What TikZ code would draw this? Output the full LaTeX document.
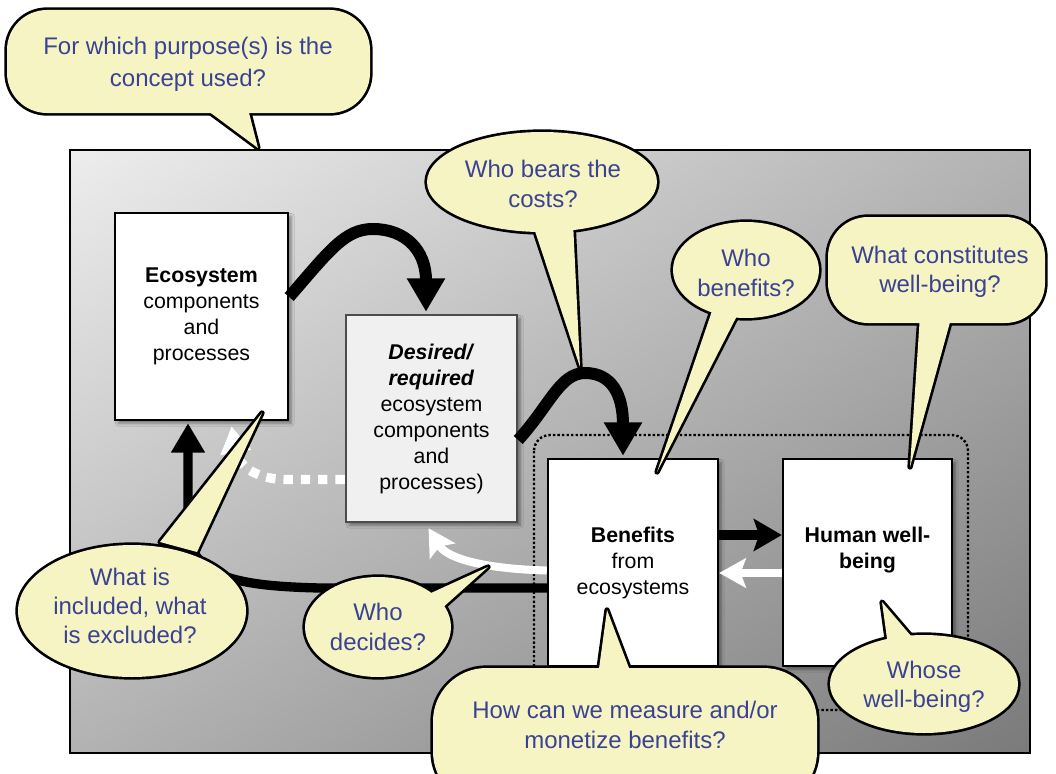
\documentclass[tikz,border=0pt]{standalone}
\usepackage{fontspec}
\setmainfont{Liberation Sans}
\usetikzlibrary{arrows.meta,calc,shadows.blur,shadings}
\definecolor{qblue}{RGB}{58,66,148}
\definecolor{bubfillc}{RGB}{247,244,196}
\begin{document}
\begin{tikzpicture}[x=0.75pt,y=-0.75pt,
  box/.style={draw=black,line width=1.8pt,fill=white,inner sep=0pt,align=center,
    font=\fontsize{16}{19.5}\selectfont,
    blur shadow={shadow blur steps=6,shadow xshift=2.5pt,shadow yshift=-2.5pt,shadow opacity=40}},
  qtext/.style={text=qblue,align=center,font=\fontsize{18}{22}\selectfont,inner sep=0pt},
  outl/.style={draw=black,line width=4pt,line join=round},
  bfill/.style={fill=bubfillc},
  bigarr/.style={draw=black,line width=9pt,-{Triangle[length=25pt,width=27pt]}},
]
\clip (0,0) rectangle (1056,774);
\fill[white] (0,0) rectangle (1056,774);

% grey frame
\shade[upper left=black!7, upper right=black!30, lower left=black!30, lower right=black!52]
  (70,150) rectangle (1030,753);
\draw[line width=1.5pt] (70,150) rectangle (1030,753);

% dotted group
\draw[line width=1.8pt, dash pattern=on 1.8pt off 1.6pt, rounded corners=12pt] (534,435) rectangle (968,710);

% boxes
\node[box, minimum width=129.75pt, minimum height=155.25pt] (eco) at (201.5,316.5)
  {\textbf{Ecosystem}\\components\\and\\processes};
\node[box, draw=black!70, fill=black!6, minimum width=128.25pt, minimum height=155.25pt] (des) at (431.5,418.5)
  {\textbf{\textit{Desired/}}\\\textbf{\textit{required}}\\ecosystem\\components\\and\\processes)};
\node[box, minimum width=127.5pt, minimum height=155.25pt] (ben) at (633,562.5)
  {\textbf{Benefits}\\from\\ecosystems};
\node[box, minimum width=126.75pt, minimum height=155.25pt] (hum) at (867.5,562.5) {};
\node[align=center, inner sep=0pt, font=\fontsize{16}{19.5}\selectfont] (humtxt) at (867.5,550)
  {\textbf{Human well-}\\\textbf{being}};

% arrows
\draw[bigarr] ($(eco.east)+(0,-19.5)$) .. controls (330,250) and (345,229) .. (373,229)
  .. controls (405,229) and (426,250) .. ($(des.north)+(-5.5,-2)$);
\draw[bigarr] ($(des.east)+(0,21.5)$) .. controls (550,405) and (560,373) .. (585,373)
  .. controls (612,373) and (623,395) .. ($(ben.north)+(-10,-2)$);
\draw[black, line width=7.5pt, -{Stealth[length=21pt,width=24pt,inset=4pt]}]
  ($(ben.east)+(0,-27.5)$) -- ($(hum.west)+(0,-27.5)$);
\draw[white, line width=6.5pt, -{Stealth[length=20pt,width=22pt,inset=4pt]}]
  ($(hum.west)+(0,10.5)$) -- ($(ben.east)+(0,10.5)$);
\draw[black, line width=7pt, -{Triangle[length=22pt,width=24pt]}]
  ($(ben.west)+(0,25.5)$) -- (320,588) .. controls (230,586) and (188,575) .. (188,525)
  -- ($(eco.south)+(-13.5,2)$);
\draw[white, line width=7pt, dash pattern=on 7pt off 6pt, -{Triangle[length=20pt,width=22pt]}]
  ($(des.west)+(0,61)$) -- (285,479.5) .. controls (255,479) and (238,465) .. ($(eco.south)+(30,5)$);
\draw[white, line width=6pt, -{Stealth[length=20pt,width=22pt,inset=4pt]}]
  ($(ben.west)+(0,8)$) .. controls (490,569) and (448,560) .. ($(des.south)+(-3,5)$);

% bubble: purpose
\path[outl, rounded corners=30pt] (7,10) rectangle (370,113);
\path[outl] (200,105) -- (258,148) -- (247,105) -- cycle;
\path[bfill, rounded corners=30pt] (7,10) rectangle (370,113);
\path[bfill] (200,105) -- (258,148) -- (247,105) -- cycle;
\node[qtext] (q1) at (188,64) {For which purpose(s) is the\\[2pt]concept used?};

% bubble: who bears the costs
\path[outl] (542,182) ellipse [x radius=86.25pt, y radius=37.5pt];
\path[outl] (532,222) -- (580,367) -- (573,222) -- cycle;
\path[bfill] (542,182) ellipse [x radius=86.25pt, y radius=37.5pt];
\path[bfill] (532,222) -- (580,367) -- (573,222) -- cycle;
\node[qtext] (q2) at (543,184) {Who bears the\\costs?};

% bubble: who benefits
\path[outl] (746,270) ellipse [x radius=54.75pt, y radius=36pt];
\path[outl] (713,308) -- (657,472) -- (740,310) -- cycle;
\path[bfill] (746,270) ellipse [x radius=54.75pt, y radius=36pt];
\path[bfill] (713,308) -- (657,472) -- (740,310) -- cycle;
\node[qtext] (q3) at (746,273) {Who\\benefits?};

% bubble: what constitutes well-being
\path[outl, rounded corners=30pt] (828,217) rectangle (1045,323);
\path[outl] (920,315) -- (910,467) -- (952,315) -- cycle;
\path[bfill, rounded corners=30pt] (828,217) rectangle (1045,323);
\path[bfill] (920,315) -- (910,467) -- (952,315) -- cycle;
\node[qtext] (q4) at (940,272) {What constitutes\\well-being?};

% bubble: whose well-being
\path[outl] (924,684) ellipse [x radius=70.5pt, y radius=36.75pt];
\path[outl] (888,646) -- (882,602) -- (917,643) -- cycle;
\path[bfill] (924,684) ellipse [x radius=70.5pt, y radius=36.75pt];
\path[bfill] (888,646) -- (882,602) -- (917,643) -- cycle;
\node[qtext] (q5) at (924,687) {Whose\\well-being?};

% bubble: measure
\path[outl, rounded corners=40pt] (433,668) rectangle (817,805);
\path[outl] (598,676) -- (607,610) -- (632,676) -- cycle;
\path[bfill, rounded corners=40pt] (433,668) rectangle (817,805);
\path[bfill] (598,676) -- (607,610) -- (632,676) -- cycle;
\node[qtext] (q6) at (625,725) {How can we measure and/or\\monetize benefits?};

% bubble: what is included
\path[outl] (132,611) ellipse [x radius=85.5pt, y radius=49.5pt];
\path[outl] (160,542) -- (262,413) -- (197,552) -- cycle;
\path[bfill] (132,611) ellipse [x radius=85.5pt, y radius=49.5pt];
\path[bfill] (160,542) -- (262,413) -- (197,552) -- cycle;
\node[qtext] (q7) at (130,606) {What is\\included, what\\is excluded?};

% bubble: who decides
\path[outl] (378,627) ellipse [x radius=54.75pt, y radius=37.5pt];
\path[outl] (420,598) -- (488,567) -- (440,610) -- cycle;
\path[bfill] (378,627) ellipse [x radius=54.75pt, y radius=37.5pt];
\path[bfill] (420,598) -- (488,567) -- (440,610) -- cycle;
\node[qtext] (q8) at (378,627) {Who\\decides?};
\end{tikzpicture}
\end{document}
